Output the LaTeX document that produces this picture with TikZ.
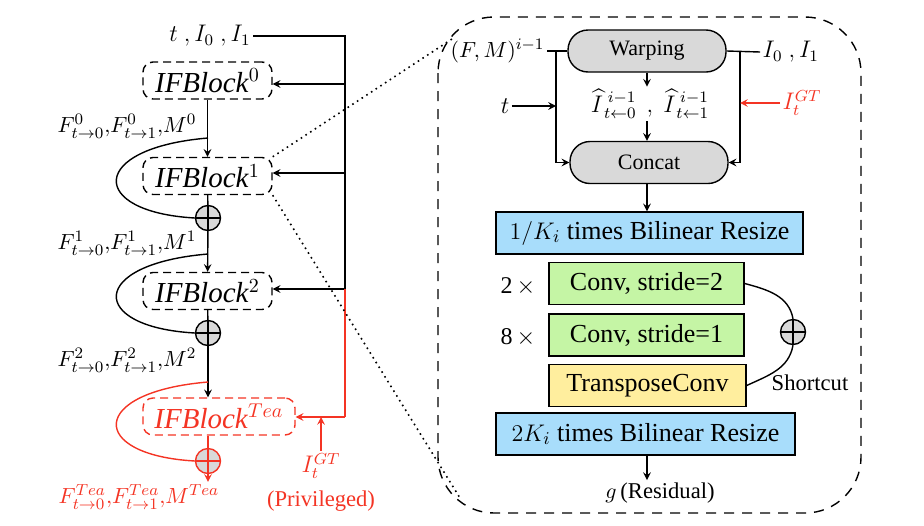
\documentclass[tikz,border=0pt]{standalone}
\usepackage{amsmath}
\usepackage{fontspec}
\setmainfont{Liberation Serif}

\definecolor{boxblue}{HTML}{A8DDFB}
\definecolor{boxgreen}{HTML}{C5F5A5}
\definecolor{boxyellow}{HTML}{FFEE9E}
\definecolor{opgray}{HTML}{D9D9D9}
\definecolor{teared}{HTML}{F43424}

\tikzset{
  ifblock/.style={draw,dash pattern=on 4pt off 2.5pt,rounded corners=5pt,minimum width=64.5pt,
    minimum height=18.5pt,inner sep=1pt,font=\fontsize{14.5}{16}\selectfont},
  addop/.style={draw,circle,fill=opgray,minimum size=12.5pt,inner sep=0pt,
    path picture={\draw[#1] (path picture bounding box.north) -- (path picture bounding box.south)
      (path picture bounding box.west) -- (path picture bounding box.east);}},
  addop/.default=black,
  oppill/.style={draw,fill=opgray,rounded corners=10pt,minimum width=79pt,minimum height=21pt,
    font=\fontsize{11}{13}\selectfont},
  layerbox/.style={draw,minimum height=21pt,inner sep=1pt,font=\fontsize{13}{15}\selectfont},
  lbl/.style={font=\fontsize{12}{14}\selectfont,inner sep=1pt},
  flowlbl/.style={font=\fontsize{10.8}{12}\selectfont,inner sep=1pt,anchor=east},
  small/.style={font=\fontsize{11.3}{13}\selectfont,inner sep=1pt},
}

\begin{document}
\begin{tikzpicture}[x=0.5pt,y=-0.5pt,line width=0.7pt,>=stealth]
  \useasboundingbox (0,0) rectangle (924,525);
  % cascade of IFBlocks
  \node[lbl] (inp) at (210,36) {$t\ ,I_0\ ,I_1$};
  \node[ifblock] (ifb0) at (207.5,80.5) {\textit{IFBlock}$^{0}$};
  \node[ifblock] (ifb1) at (207.5,176) {\textit{IFBlock}$^{1}$};
  \node[addop] (add1) at (208,218) {};
  \node[ifblock] (ifb2) at (207.5,291) {\textit{IFBlock}$^{2}$};
  \node[addop] (add2) at (208,333) {};
  \node[ifblock,color=teared,minimum width=76pt] (ifbt) at (219,416.5) {\textit{IFBlock}$^{Tea}$};
  \node[addop=teared,draw=teared] (addt) at (208,461) {};
  \node[flowlbl] (f0) at (199,126) {$F^{0}_{t\rightarrow0},\!F^{0}_{t\rightarrow1},\!M^{0}$};
  \node[flowlbl] (f1) at (199,243) {$F^{1}_{t\rightarrow0},\!F^{1}_{t\rightarrow1},\!M^{1}$};
  \node[flowlbl] (f2) at (199,360) {$F^{2}_{t\rightarrow0},\!F^{2}_{t\rightarrow1},\!M^{2}$};
  \node[flowlbl,color=teared] (ft) at (222,497) {$F^{Tea}_{t\rightarrow0},\!F^{Tea}_{t\rightarrow1},\!M^{Tea}$};
  \node[lbl,color=teared] (gt) at (321,466) {$I_t^{GT}$};
  \node[small,color=teared] (priv) at (321,501) {(Privileged)};

  \coordinate (top) at (345,36);
  \coordinate (j0) at (345,84);
  \coordinate (j1) at (345,173);
  \coordinate (j2) at (345,289);
  \coordinate (jt) at (345,417);
  \coordinate (s1) at (208,138);
  \coordinate (s2) at (208,254);
  \coordinate (st) at (208,382);

  \draw (inp.east) -- (top) -- (j2);
  \draw[->] (j0) -- (j0 -| ifb0.east);
  \draw[->] (j1) -- (j1 -| ifb1.east);
  \draw[->] (j2) -- (j2 -| ifb2.east);
  \draw[teared] (j2) -- (jt);
  \draw[teared,->] (jt) -- (jt -| ifbt.east);
  \draw[teared,->] (gt.north) -- (gt.north |- jt);

  \draw[->] (ifb0) -- (ifb1);
  \draw (ifb1) -- (add1);
  \draw[->] (add1) -- (ifb2);
  \draw (ifb2) -- (add2);
  \draw[->] (add2) -- (add2 |- ifbt.north);
  \draw[teared] (ifbt.south -| addt) -- (addt);
  \draw[teared,->] (addt) -- (addt |- ft.north);
  \draw (s1) .. controls (88,148) and (88,212) .. (add1.west);
  \draw (s2) .. controls (88,264) and (88,327) .. (add2.west);
  \draw[teared] (st) .. controls (88,392) and (88,455) .. (addt.west);

  % zoom into IFBlock
  \coordinate (zt) at (455,37);
  \coordinate (zb) at (460,498);
  \draw[dotted,thick] (ifb1.north east) -- (zt);
  \draw[dotted,thick] (ifb1.south east) -- (zb);
  \draw[dash pattern=on 5pt off 4pt,rounded corners=28pt] (438,17) rectangle (861,513);

  \node[oppill] (warp) at (647,51) {Warping};
  \node[oppill] (concat) at (649,162.5) {Concat};
  \node[lbl,anchor=east,font=\fontsize{11}{13}\selectfont] (fm) at (547,51) {$(F,M)^{i-1}$};
  \node[lbl] (tin) at (505,106) {$t$};
  \node[lbl,anchor=west] (i01) at (760,52) {$I_0\ ,I_1$};
  \node[lbl,anchor=west,color=teared] (gtr) at (780,103) {$I_t^{GT}$};
  \node[lbl] (hat) at (650,104) {$\widehat{I}^{\;i-1}_{\,t\leftarrow0}\ \,,\ \widehat{I}^{\;i-1}_{\,t\leftarrow1}$};

  \coordinate (lb) at (556,51);
  \coordinate (rb) at (740,51);
  \draw (fm.east) -- (warp.west);
  \draw (warp.east) -- (i01.west);
  \draw[->] (lb) |- (concat.west);
  \draw[->] (rb) |- (concat.east);
  \draw[->] (tin.east) -- (tin -| lb);
  \draw[teared,->] (gtr.west) -- (gtr.west -| rb);
  \draw[->] (warp.south) -- (warp.south |- hat.north);
  \draw[->] (hat.south -| warp.south) -- (concat.north -| warp.south);

  \node[layerbox,fill=boxblue,minimum width=153.5pt] (down1) at (649.5,233) {$1/K_i$ times Bilinear Resize};
  \node[layerbox,fill=boxgreen,minimum width=97.5pt] (conv2) at (646.5,283.5) {Conv, stride=2};
  \node[layerbox,fill=boxgreen,minimum width=97.5pt] (conv1) at (646.5,335) {Conv, stride=1};
  \node[layerbox,fill=boxyellow,minimum width=98.5pt] (tconv) at (647.5,385.5) {TransposeConv};
  \node[layerbox,fill=boxblue,minimum width=149.5pt] (up2) at (645.5,434) {$2K_i$ times Bilinear Resize};
  \node[lbl] (rep2) at (518,287) {2\,$\times$};
  \node[lbl] (rep8) at (518,338) {8\,$\times$};
  \node[addop] (addr) at (793,332) {};
  \node[small] (sc) at (810,383) {Shortcut};
  \node[small] (res) at (660,493) {$g$\,(Residual)};

  \draw[->] (concat.south -| warp.south) -- (down1.north -| warp.south);
  \draw (conv2.east) to[out=-15,in=100] (addr.north);
  \draw (addr.south) to[out=-100,in=25] (tconv.east);
  \draw[->] (up2.south -| warp.south) -- (res.north -| warp.south);
\end{tikzpicture}
\end{document}
